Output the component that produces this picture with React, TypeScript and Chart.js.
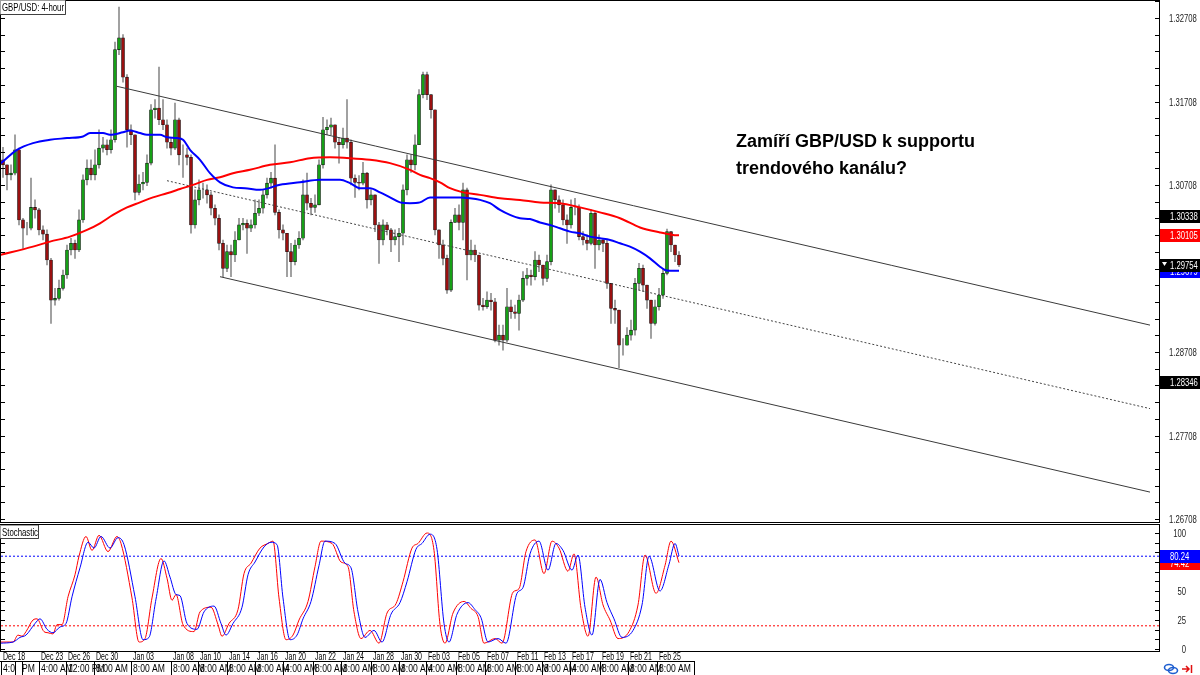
import React, { useEffect, useRef } from 'react';
import { Chart, registerables } from 'chart.js';

Chart.register(...registerables);

// ---------- price data (4-hour GBP/USD) ----------
const firstOpen = 1.3101;
const closes = [
  1.3095, 1.3083, 1.3085, 1.3113, 1.3029, 1.3019, 1.3019, 1.3044, 1.3041, 1.3017,
  1.3012, 1.2981, 1.2933, 1.2935, 1.2947, 1.2963, 1.2993, 1.3001, 1.2993, 1.3029,
  1.3077, 1.3091, 1.3083, 1.3095, 1.3115, 1.3119, 1.3113, 1.3125, 1.3233, 1.3247,
  1.3200, 1.3137, 1.3131, 1.3062, 1.3072, 1.3074, 1.3097, 1.3161, 1.3163, 1.3149,
  1.3143, 1.3122, 1.3115, 1.3149, 1.3107, 1.3107, 1.3104, 1.3023, 1.3053, 1.3065,
  1.3065, 1.3059, 1.3043, 1.3031, 1.3001, 1.2971, 1.2991, 1.2987, 1.3005, 1.3023,
  1.3025, 1.3019, 1.3023, 1.3037, 1.3043, 1.3059, 1.3073, 1.3079, 1.3038, 1.3017,
  1.3013, 1.2991, 1.2979, 1.2999, 1.3007, 1.3059, 1.3049, 1.3044, 1.3047, 1.3095,
  1.3137, 1.3140, 1.3143, 1.3122, 1.3119, 1.3127, 1.3122, 1.3079, 1.3074, 1.3073,
  1.3085, 1.3053, 1.3059, 1.3023, 1.3005, 1.3023, 1.3017, 1.3005, 1.3009, 1.3013,
  1.3065, 1.3101, 1.3095, 1.3119, 1.3179, 1.3203, 1.3179, 1.3161, 1.3017, 1.2999,
  1.2983, 1.2945, 1.3026, 1.3035, 1.3026, 1.3065, 1.2987, 1.2993, 1.2987, 1.2927,
  1.2925, 1.2933, 1.2931, 1.2885, 1.2891, 1.2885, 1.2925, 1.2919, 1.2917, 1.2933,
  1.2959, 1.2963, 1.2961, 1.2981, 1.2975, 1.2959, 1.2979, 1.3065, 1.3053, 1.3047,
  1.3029, 1.3023, 1.3044, 1.3044, 1.3009, 1.3005, 1.3001, 1.3037, 1.2999, 1.3005,
  1.3001, 1.2953, 1.2923, 1.2921, 1.2879, 1.2879, 1.2891, 1.2897, 1.2953, 1.2971,
  1.2951, 1.2933, 1.2905, 1.2925, 1.2939, 1.2965, 1.3015, 1.2999, 1.2987, 1.2975,
];
const highs = [
  1.3116, 1.3095, 1.3095, 1.3131, 1.3115, 1.3031, 1.3026, 1.3079, 1.3053, 1.3043,
  1.3022, 1.3017, 1.2983, 1.2947, 1.2957, 1.2969, 1.2999, 1.3007, 1.3005, 1.3041,
  1.3083, 1.3101, 1.3101, 1.3113, 1.3137, 1.3128, 1.3125, 1.3137, 1.3242, 1.3284,
  1.3251, 1.3203, 1.3143, 1.3131, 1.3083, 1.3086, 1.3107, 1.3167, 1.3173, 1.3212,
  1.3173, 1.3149, 1.3127, 1.3169, 1.3151, 1.3119, 1.3115, 1.3107, 1.3065, 1.3077,
  1.3073, 1.3071, 1.3062, 1.3047, 1.3035, 1.3005, 1.2999, 1.2999, 1.3015, 1.3031,
  1.3031, 1.3029, 1.3029, 1.3053, 1.3053, 1.3065, 1.3079, 1.3086, 1.3119, 1.3041,
  1.3023, 1.3011, 1.3001, 1.3005, 1.3015, 1.3077, 1.3085, 1.3055, 1.3059, 1.3101,
  1.3152, 1.3149, 1.3151, 1.3143, 1.3128, 1.3139, 1.3173, 1.3125, 1.3083, 1.3082,
  1.3098, 1.3086, 1.3065, 1.3059, 1.3026, 1.3029, 1.3026, 1.3019, 1.3017, 1.3019,
  1.3071, 1.3107, 1.3107, 1.3131, 1.3185, 1.3206, 1.3206, 1.3179, 1.3161, 1.3017,
  1.3005, 1.2987, 1.3029, 1.3043, 1.3047, 1.3073, 1.3067, 1.3005, 1.2999, 1.2987,
  1.2935, 1.2943, 1.2941, 1.2935, 1.2903, 1.2903, 1.2947, 1.2933, 1.2927, 1.2939,
  1.2967, 1.2971, 1.2969, 1.2991, 1.2987, 1.2975, 1.2987, 1.3071, 1.3065, 1.3058,
  1.3053, 1.3035, 1.3053, 1.3055, 1.3047, 1.3015, 1.3011, 1.3041, 1.3038, 1.3011,
  1.3007, 1.3005, 1.2953, 1.2933, 1.2921, 1.2887, 1.2900, 1.2909, 1.2959, 1.2977,
  1.2975, 1.2947, 1.2933, 1.2933, 1.2947, 1.2971, 1.3018, 1.3015, 1.2999, 1.2991,
];
const lows = [
  1.3080, 1.3065, 1.3077, 1.3083, 1.3023, 1.2995, 1.3011, 1.3017, 1.3031, 1.3011,
  1.3005, 1.2975, 1.2905, 1.2927, 1.2933, 1.2945, 1.2959, 1.2987, 1.2983, 1.2991,
  1.3026, 1.3071, 1.3077, 1.3077, 1.3091, 1.3110, 1.3107, 1.3109, 1.3122, 1.3227,
  1.3194, 1.3116, 1.3119, 1.3053, 1.3059, 1.3065, 1.3070, 1.3095, 1.3151, 1.3143,
  1.3137, 1.3115, 1.3107, 1.3113, 1.3095, 1.3080, 1.3095, 1.3013, 1.3019, 1.3047,
  1.3055, 1.3049, 1.3035, 1.3023, 1.2993, 1.2961, 1.2967, 1.2961, 1.2979, 1.3005,
  1.3017, 1.2989, 1.3015, 1.3019, 1.3034, 1.3037, 1.3055, 1.3067, 1.3035, 1.3007,
  1.3005, 1.2961, 1.2961, 1.2975, 1.2995, 1.3005, 1.3041, 1.3035, 1.3038, 1.3047,
  1.3091, 1.3131, 1.3131, 1.3115, 1.3097, 1.3115, 1.3115, 1.3071, 1.3056, 1.3065,
  1.3071, 1.3043, 1.3047, 1.3015, 1.2977, 1.2999, 1.3011, 1.2991, 1.2999, 1.2979,
  1.2999, 1.3059, 1.3086, 1.3089, 1.3119, 1.3175, 1.3173, 1.3151, 1.3011, 1.2983,
  1.2975, 1.2941, 1.2943, 1.3026, 1.3017, 1.3005, 1.2957, 1.2981, 1.2979, 1.2921,
  1.2921, 1.2923, 1.2921, 1.2883, 1.2879, 1.2873, 1.2883, 1.2911, 1.2911, 1.2897,
  1.2931, 1.2951, 1.2951, 1.2957, 1.2967, 1.2951, 1.2955, 1.2975, 1.3043, 1.3038,
  1.3023, 1.3001, 1.3019, 1.3035, 1.3005, 1.2999, 1.2993, 1.2999, 1.2971, 1.2993,
  1.2991, 1.2947, 1.2905, 1.2905, 1.2852, 1.2867, 1.2879, 1.2885, 1.2891, 1.2945,
  1.2943, 1.2923, 1.2887, 1.2903, 1.2921, 1.2935, 1.2963, 1.2991, 1.2979, 1.2973,
];

// ---------- moving averages (x = bar position) ----------
const blueMaX = [-0.5, 3.5, 7.5, 11.75, 16, 20, 21.75, 25, 26.75, 30, 31.75, 34.25, 36, 39.25, 41, 43.5, 45, 46.75, 49.25, 51.75, 54.25, 57.5, 60.5, 64.25, 69.25, 74.25, 79.25, 84.25, 86.75, 89.25, 91.75, 94.25, 96.75, 99.25, 101.75, 104.25, 106.75, 110.5, 114.25, 116.75, 119.25, 121.75, 124.25, 126.75, 129.25, 131.75, 134.25, 136.75, 139.25, 141.75, 144.25, 146.75, 149.25, 151.75, 154.25, 156.75, 159.25, 161.75, 164.25, 165.5, 166.75, 169];
const blueMaY = [1.3097, 1.3113, 1.3121, 1.3125, 1.3127, 1.3129, 1.3133, 1.3133, 1.3131, 1.3134, 1.3136, 1.3133, 1.3131, 1.3131, 1.3128, 1.3127, 1.3125, 1.3113, 1.3101, 1.3085, 1.3074, 1.3068, 1.3067, 1.3065, 1.3071, 1.3074, 1.3077, 1.3077, 1.3073, 1.3067, 1.3067, 1.3062, 1.3056, 1.3050, 1.3049, 1.3050, 1.3056, 1.3056, 1.3056, 1.3055, 1.3053, 1.3049, 1.3041, 1.3035, 1.3031, 1.3030, 1.3026, 1.3023, 1.3019, 1.3015, 1.3013, 1.3009, 1.3007, 1.3005, 1.3001, 1.2997, 1.2991, 1.2983, 1.2973, 1.2969, 1.2968, 1.2968];
const redMaX = [-0.75, 7.5, 11.75, 16.75, 21, 24.25, 27.5, 31, 34.25, 37.5, 41, 44.25, 47.5, 51, 54.25, 57.5, 61.75, 66.75, 71.75, 76.75, 81.75, 86.75, 91.75, 96.75, 101.75, 104.25, 106.75, 109.25, 111.75, 115, 119.25, 124.25, 129.25, 134.25, 139.25, 144.25, 149.25, 154.25, 159.25, 164.25, 167.5, 169];
const redMaY = [1.2987, 1.2997, 1.3003, 1.3009, 1.3017, 1.3025, 1.3035, 1.3044, 1.3050, 1.3056, 1.3061, 1.3066, 1.3071, 1.3077, 1.3080, 1.3085, 1.3089, 1.3095, 1.3098, 1.3103, 1.3104, 1.3103, 1.3101, 1.3097, 1.3089, 1.3083, 1.3079, 1.3074, 1.3067, 1.3062, 1.3059, 1.3055, 1.3053, 1.3050, 1.3049, 1.3044, 1.3038, 1.3031, 1.3020, 1.3014, 1.3011, 1.30105];

// ---------- trend channel ----------
const upperChannelX = [28.5, 286.75];
const upperChannelY = [1.3189, 1.2903];
const lowerChannelX = [54.25, 286.75];
const lowerChannelY = [1.2961, 1.2703];
const midChannelX = [41, 286.75];
const midChannelY = [1.3076, 1.2803];

// ---------- stochastic ----------
const stochMainX = [-0.75, 2.5, 3.75, 4.75, 5.75, 7.5, 8.5, 10.25, 11.25, 12.5, 13.5, 14.75, 16.25, 18, 19, 20.75, 22.25, 24, 26.25, 28.5, 29.5, 32.25, 34, 35.5, 37.25, 39.5, 41, 42.25, 43.25, 45, 47.75, 49.25, 52, 53.75, 54.75, 56.5, 58.75, 60.25, 62, 64.25, 66.25, 67.5, 69, 70.75, 72.5, 74, 76.25, 78, 79.5, 82.25, 84.5, 86.25, 87.75, 89.5, 91.75, 94, 96, 98.25, 100, 102.25, 103.75, 106, 107.75, 109.25, 110.5, 112.5, 115.25, 117, 118.75, 120.25, 123, 124.75, 127.5, 129, 130.75, 133, 135.25, 137.25, 139, 141.25, 142.75, 144.5, 146.25, 148.25, 150, 151.75, 153.75, 156.5, 158.75, 160.5, 163.25, 165.5, 167, 169];
const stochMain = [6, 6, 12, 11, 15, 25, 26, 15, 14, 13, 21, 21, 45, 64, 80, 97, 85, 98, 84, 97, 91, 44, 6, 9, 44, 78, 61, 42, 47, 21, 15, 32, 36, 21, 11, 22, 34, 65, 74, 87, 91, 93, 44, 8, 12, 25, 41, 71, 93, 91, 75, 71, 32, 9, 16, 5, 31, 39, 58, 87, 91, 100, 85, 21, 5, 31, 41, 35, 28, 5, 9, 5, 49, 52, 84, 94, 65, 93, 87, 67, 82, 35, 11, 62, 38, 25, 9, 15, 38, 81, 48, 72, 93, 74.42];
const stochSigX = [-0.75, 2.5, 4.25, 5.75, 8, 9.25, 11, 12.5, 14.25, 15.75, 17.25, 19.25, 21.25, 22.75, 24.5, 26.75, 28.75, 30.25, 33, 35, 36.5, 38.25, 40.25, 41.75, 43.25, 44.25, 46, 48.5, 50.25, 52.75, 54.5, 55.75, 57.5, 59.75, 61.25, 63, 65.25, 67, 68.5, 70, 71.75, 73.5, 75, 77, 79, 80.5, 83, 85.5, 87, 88.75, 90.5, 92.75, 94.75, 97, 99.25, 101, 103.25, 104.75, 106.75, 108.5, 110.25, 111.5, 113.5, 116.25, 118, 119.5, 121.25, 123.75, 125.75, 128.5, 130, 131.75, 134, 136.25, 138.25, 140, 142.25, 143.75, 145.5, 147.25, 149.25, 151, 152.75, 154.75, 157.5, 159.75, 161.5, 164.25, 166.5, 168, 169];
const stochSig = [5, 6, 10, 12, 22, 26, 17, 14, 19, 22, 45, 70, 92, 87, 97, 87, 96, 90, 45, 8, 10, 43, 76, 62, 47, 46, 22, 17, 32, 37, 22, 12, 22, 36, 64, 75, 88, 92, 90, 44, 8, 12, 26, 41, 72, 93, 91, 74, 70, 32, 10, 16, 6, 30, 40, 58, 86, 91, 99, 86, 22, 6, 30, 40, 34, 27, 6, 9, 5, 48, 53, 82, 93, 68, 91, 85, 68, 81, 36, 12, 60, 40, 26, 10, 16, 38, 80, 50, 73, 91, 80.24];
const stochUpperLevel = 80;
const stochLowerLevel = 20;

// ---------- axes / labels ----------
const priceLabels = [1.32708, 1.31708, 1.30708, 1.29708, 1.28708, 1.27708, 1.26708];
const priceMinorBase = 1.26708;
const priceMinorStep = 0.002;
const markerValues = [1.30338, 1.30105, 1.29679, 1.29754, 1.28346];
const markerColors = ['#000000', '#ff0000', '#0000ff', '#000000', '#000000'];
const stochLabels = [100, 75, 50, 25, 0];
const stochMarkerValues = [74.42, 80.24];
const stochMarkerColors = ['#ff0000', '#0000ff'];
const dateLabels = ['Dec 18', 'Dec 23', 'Dec 26', 'Dec 30', 'Jan 03', 'Jan 08', 'Jan 10', 'Jan 14', 'Jan 16', 'Jan 20', 'Jan 22', 'Jan 24', 'Jan 28', 'Jan 30', 'Feb 03', 'Feb 05', 'Feb 07', 'Feb 11', 'Feb 13', 'Feb 17', 'Feb 19', 'Feb 21', 'Feb 25'];
const timeLabels = ['4:00 PM', '4:00 AM', '12:00 PM', '8:00 AM', '8:00 AM', '8:00 AM', '8:00 AM', '8:00 AM', '8:00 AM', '4:00 AM', '8:00 AM', '8:00 AM', '8:00 AM', '8:00 AM', '4:00 AM', '8:00 AM', '8:00 AM', '8:00 AM', '8:00 AM', '4:00 AM', '8:00 AM', '8:00 AM', '8:00 AM'];
const labelPos = [-0.5, 8.9, 15.8, 22.75, 32.1, 41.9, 48.75, 56.1, 63.1, 70, 77.5, 84.6, 92.1, 99, 105.8, 113.3, 120.4, 127.9, 134.75, 141.8, 149.3, 156.25, 163.6];
const chartTitle = 'GBP/USD: 4-hour';
const stochTitle = 'Stochastic';

const X_MIN = -0.5;
const X_MAX = 289;
const PRICE_MIN = 1.26672;
const PRICE_MAX = 1.32912;
const STOCH_MIN = -1.72;
const STOCH_MAX = 106.9;

const FONT = '"Liberation Sans", Arial, sans-serif';

function drawText(ctx: any, s: string, x: number, y: number, size: number, color: string, sx = 0.7, align = 'left', weight = 'normal') {
  ctx.save();
  ctx.font = `${weight} ${size}px ${FONT}`;
  ctx.fillStyle = color;
  ctx.textAlign = align;
  ctx.textBaseline = 'middle';
  ctx.translate(x, y);
  ctx.scale(sx, 1);
  ctx.fillText(s, 0, 0);
  ctx.restore();
}

function titleBox(ctx: any, s: string, x: number, y: number, w: number, h: number) {
  ctx.save();
  ctx.fillStyle = '#ffffff';
  ctx.fillRect(x, y, w, h);
  ctx.strokeStyle = '#a0a0a0';
  ctx.lineWidth = 1;
  ctx.strokeRect(x + 0.5, y + 0.5, w - 1, h - 1);
  ctx.strokeStyle = '#404040';
  ctx.beginPath();
  ctx.moveTo(x + w - 0.5, y);
  ctx.lineTo(x + w - 0.5, y + h - 0.5);
  ctx.lineTo(x, y + h - 0.5);
  ctx.stroke();
  ctx.restore();
  drawText(ctx, s, x + 2, y + h / 2 + 0.5, 11, '#000', 0.71);
}

function markerBox(ctx: any, y: number, label: string, bg: string, left: number, tri: boolean) {
  const cy = Math.round(y);
  ctx.save();
  ctx.fillStyle = bg;
  ctx.fillRect(left, cy - 6, 1200 - left, 13);
  if (tri) {
    ctx.fillStyle = '#ffffff';
    ctx.beginPath();
    ctx.moveTo(left + 2, cy - 3);
    ctx.lineTo(left + 7, cy - 3);
    ctx.lineTo(left + 4.5, cy + 1);
    ctx.closePath();
    ctx.fill();
  }
  ctx.restore();
  drawText(ctx, label, left + 10, cy + 0.5, 11, '#ffffff', 0.7);
}

const mainDecor = {
  id: 'mainDecor',
  afterDraw(chart: any) {
    const { ctx, chartArea: a } = chart;
    const ys = chart.scales.y;
    ctx.save();
    ctx.strokeStyle = '#000';
    ctx.lineWidth = 1;
    ctx.strokeRect(a.left - 0.5, a.top - 0.5, a.right - a.left + 1, a.bottom - a.top + 1);
    ctx.beginPath();
    for (let k = 0; k < 40; k++) {
      const p = priceMinorBase + k * priceMinorStep;
      if (p > ys.max) break;
      const py = Math.round(ys.getPixelForValue(p)) + 0.5;
      ctx.moveTo(a.right - 4, py);
      ctx.lineTo(a.right, py);
      ctx.moveTo(a.left, py);
      ctx.lineTo(a.left + 4, py);
    }
    ctx.stroke();
    ctx.restore();
    priceLabels.forEach((v) => {
      drawText(ctx, v.toFixed(5), a.right + 10, Math.round(ys.getPixelForValue(v)) + 0.5, 11, '#222222', 0.7);
    });
    markerValues.forEach((v, i) => {
      markerBox(ctx, ys.getPixelForValue(v), v.toFixed(5), markerColors[i], a.right + 1, i === 3);
    });
    titleBox(ctx, chartTitle, 0, 0, 66, 15);
  },
};

const stochDecor = {
  id: 'stochDecor',
  afterDraw(chart: any) {
    const { ctx, chartArea: a } = chart;
    const ys = chart.scales.y;
    const xs = chart.scales.x;
    ctx.save();
    ctx.strokeStyle = '#000';
    ctx.lineWidth = 1;
    ctx.strokeRect(a.left - 0.5, a.top - 0.5, a.right - a.left + 1, a.bottom - a.top + 1);
    ctx.beginPath();
    for (let k = 0; k <= 12; k++) {
      const v = (k * 100) / 12;
      const py = Math.round(ys.getPixelForValue(v)) + 0.5;
      ctx.moveTo(a.right - 4, py);
      ctx.lineTo(a.right, py);
      ctx.moveTo(a.left, py);
      ctx.lineTo(a.left + 4, py);
    }
    ctx.stroke();
    ctx.restore();
    stochLabels.forEach((v) => {
      drawText(ctx, String(v), a.right + 27, Math.round(ys.getPixelForValue(v)) + 0.5, 11, '#222222', 0.7, 'right');
    });
    stochMarkerValues.forEach((v, i) => {
      markerBox(ctx, ys.getPixelForValue(v), v.toFixed(2), stochMarkerColors[i], a.right + 1, false);
    });
    titleBox(ctx, stochTitle, 0, a.top, 39, 14);

    // time axis
    const dateY = a.bottom + 6;
    const boxTop = a.bottom + 10;
    dateLabels.forEach((d, k) => {
      const px = Math.max(a.left, Math.round(xs.getPixelForValue(labelPos[k])));
      drawText(ctx, d, px + 2, dateY, 10, '#000', 0.7);
    });
    ctx.save();
    ctx.font = `11px ${FONT}`;
    const lastPx = Math.round(xs.getPixelForValue(labelPos[labelPos.length - 1]));
    const lastW = Math.ceil(ctx.measureText(timeLabels[timeLabels.length - 1]).width * 0.78) + 5;
    ctx.fillStyle = '#fff';
    ctx.fillRect(0, boxTop, lastPx + lastW, 30);
    ctx.strokeStyle = '#000';
    ctx.lineWidth = 1;
    ctx.beginPath();
    ctx.moveTo(0, boxTop + 0.5);
    ctx.lineTo(lastPx + lastW + 0.5, boxTop + 0.5);
    ctx.stroke();
    timeLabels.forEach((t, k) => {
      const px = Math.max(0, Math.round(xs.getPixelForValue(labelPos[k])));
      drawText(ctx, t, px + 2, boxTop + 8, 11, '#000', 0.78);
    });
    ctx.beginPath();
    timeLabels.forEach((t, k) => {
      const px = Math.max(0, Math.round(xs.getPixelForValue(labelPos[k])));
      ctx.moveTo(px + 0.5, boxTop);
      ctx.lineTo(px + 0.5, boxTop + 30);
    });
    ctx.moveTo(lastPx + lastW + 0.5, boxTop);
    ctx.lineTo(lastPx + lastW + 0.5, boxTop + 30);
    ctx.stroke();
    // small blank box over the first label
    ctx.fillStyle = '#fff';
    ctx.fillRect(15, boxTop + 1, 8, 30);
    ctx.strokeStyle = '#000';
    ctx.strokeRect(15.5, boxTop + 0.5, 7, 30);
    ctx.restore();

    // icons bottom right
    ctx.save();
    const iy = boxTop + 8;
    ctx.strokeStyle = '#1f5fd0';
    ctx.lineWidth = 1.6;
    ctx.beginPath();
    ctx.ellipse(1169, iy - 1.5, 4.5, 3, 0, 0, Math.PI * 2);
    ctx.stroke();
    ctx.beginPath();
    ctx.ellipse(1173, iy + 1.5, 4.5, 3, 0, 0, Math.PI * 2);
    ctx.stroke();
    ctx.strokeStyle = '#e01010';
    ctx.lineWidth = 1.5;
    ctx.beginPath();
    ctx.moveTo(1182, iy);
    ctx.lineTo(1189, iy);
    ctx.moveTo(1186, iy - 3);
    ctx.lineTo(1189, iy);
    ctx.lineTo(1186, iy + 3);
    ctx.moveTo(1191.5, iy - 4);
    ctx.lineTo(1191.5, iy + 4);
    ctx.stroke();
    ctx.restore();
  },
};

function pts(xs: number[], ys: number[]) {
  return xs.map((x, i) => ({ x, y: ys[i] }));
}

export default function App() {
  const mainRef = useRef<HTMLCanvasElement>(null);
  const stochRef = useRef<HTMLCanvasElement>(null);

  useEffect(() => {
    const opens = closes.map((c, i) => (i === 0 ? firstOpen : closes[i - 1]));
    const bodies = closes.map((c, i) => ({ x: i, y: [opens[i], c] }));
    const wicks = closes.map((c, i) => ({
      x: i,
      y: [Math.min(lows[i], opens[i], c), Math.max(highs[i], opens[i], c)],
    }));
    const bodyColors = closes.map((c, i) => (c >= opens[i] ? '#16a016' : '#9a1010'));

    const xScale: any = {
      type: 'linear',
      min: X_MIN,
      max: X_MAX,
      display: false,
      offset: false,
      grid: { display: false },
    };

    const main = new Chart(mainRef.current as HTMLCanvasElement, {
      type: 'bar',
      data: {
        datasets: [
          {
            type: 'line',
            label: 'MA blue',
            data: pts(blueMaX, blueMaY),
            borderColor: '#0000ff',
            borderWidth: 2,
            pointRadius: 0,
            cubicInterpolationMode: 'monotone',
            order: 1,
          } as any,
          {
            type: 'line',
            label: 'MA red',
            data: pts(redMaX, redMaY),
            borderColor: '#ff0000',
            borderWidth: 2,
            pointRadius: 0,
            cubicInterpolationMode: 'monotone',
            order: 2,
          },
          {
            type: 'line',
            label: 'upper',
            data: pts(upperChannelX, upperChannelY),
            borderColor: '#3a3a3a',
            borderWidth: 1,
            pointRadius: 0,
            order: 3,
          },
          {
            type: 'line',
            label: 'lower',
            data: pts(lowerChannelX, lowerChannelY),
            borderColor: '#3a3a3a',
            borderWidth: 1,
            pointRadius: 0,
            order: 3,
          },
          {
            type: 'line',
            label: 'mid',
            data: pts(midChannelX, midChannelY),
            borderColor: '#444444',
            borderWidth: 1,
            borderDash: [2, 2],
            pointRadius: 0,
            order: 3,
          },
          {
            type: 'bar',
            label: 'bodies',
            data: bodies,
            backgroundColor: bodyColors,
            borderColor: '#111111',
            borderWidth: 0.6,
            borderSkipped: false,
            barThickness: 3,
            grouped: false,
            order: 6,
          },
          {
            type: 'bar',
            label: 'wicks',
            data: wicks,
            backgroundColor: '#8e8e8e',
            borderWidth: 0,
            barThickness: 1,
            grouped: false,
            order: 7,
          },
        ] as any,
      },
      options: {
        animation: false,
        responsive: false,
        events: [],
        layout: { padding: { left: 1, right: 41, top: 1, bottom: 1 } },
        scales: {
          x: xScale,
          y: { type: 'linear', min: PRICE_MIN, max: PRICE_MAX, display: false, grid: { display: false } },
        },
        plugins: { legend: { display: false }, tooltip: { enabled: false } },
      } as any,
      plugins: [mainDecor],
    });

    const stoch = new Chart(stochRef.current as HTMLCanvasElement, {
      type: 'line',
      data: {
        datasets: [
          {
            label: 'signal',
            data: pts(stochSigX, stochSig),
            borderColor: '#0000ff',
            borderWidth: 1,
            pointRadius: 0,
            cubicInterpolationMode: 'monotone',
            order: 1,
          },
          {
            label: 'main',
            data: pts(stochMainX, stochMain),
            borderColor: '#ff0000',
            borderWidth: 1,
            pointRadius: 0,
            cubicInterpolationMode: 'monotone',
            order: 2,
          },
          {
            label: 'level80',
            data: [{ x: X_MIN, y: stochUpperLevel }, { x: X_MAX, y: stochUpperLevel }],
            borderColor: '#0000ff',
            borderWidth: 1,
            borderDash: [2, 2],
            pointRadius: 0,
            order: 3,
          },
          {
            label: 'level20',
            data: [{ x: X_MIN, y: stochLowerLevel }, { x: X_MAX, y: stochLowerLevel }],
            borderColor: '#ff0000',
            borderWidth: 1,
            borderDash: [2, 2],
            pointRadius: 0,
            order: 3,
          },
        ] as any,
      },
      options: {
        animation: false,
        responsive: false,
        events: [],
        layout: { padding: { left: 1, right: 41, top: 1, bottom: 24 } },
        scales: {
          x: xScale,
          y: { type: 'linear', min: STOCH_MIN, max: STOCH_MAX, display: false, grid: { display: false } },
        },
        plugins: { legend: { display: false }, tooltip: { enabled: false } },
      } as any,
      plugins: [stochDecor],
    });

    return () => {
      main.destroy();
      stoch.destroy();
    };
  }, []);

  return (
    <div style={{ position: 'absolute', left: 0, top: 0, width: 1200, height: 675, background: '#ffffff', overflow: 'hidden' }}>
      <canvas ref={mainRef} width={1200} height={523} style={{ position: 'absolute', left: 0, top: 0, width: 1200, height: 523 }} />
      <canvas ref={stochRef} width={1200} height={151} style={{ position: 'absolute', left: 0, top: 524, width: 1200, height: 151 }} />
      <div
        style={{
          position: 'absolute',
          left: 736,
          top: 128,
          font: `bold 18px ${FONT}`,
          lineHeight: '27px',
          color: '#000000',
          whiteSpace: 'nowrap',
        }}
      >
        Zamíří GBP/USD k supportu
        <br />
        trendového kanálu?
      </div>
    </div>
  );
}
